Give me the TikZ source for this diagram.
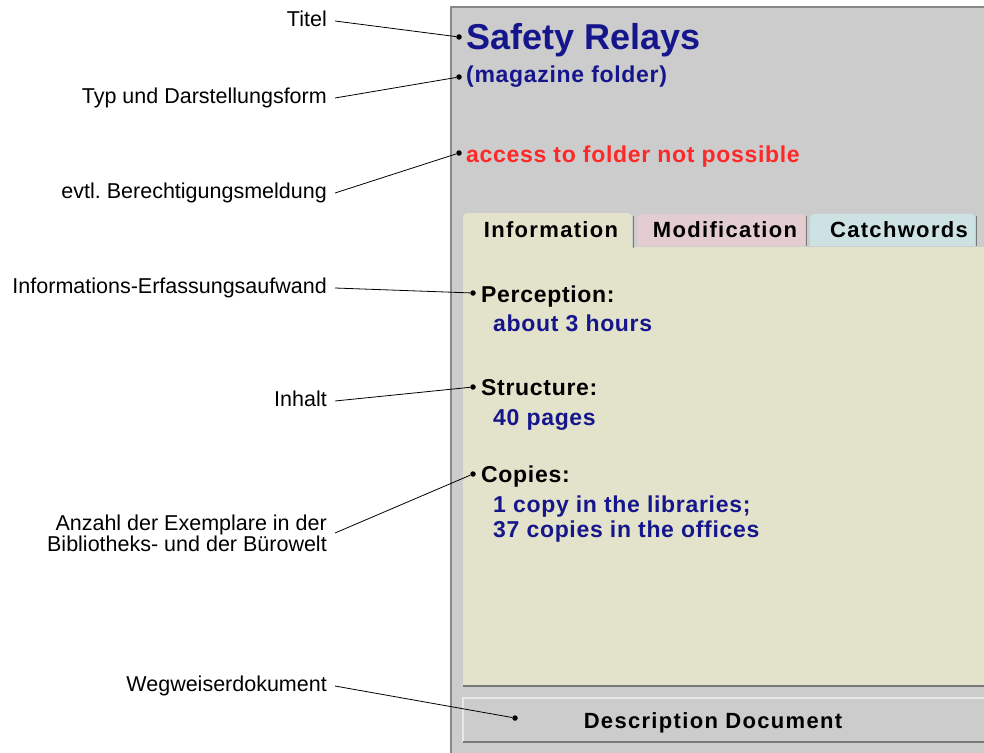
\documentclass[tikz,border=0pt]{standalone}
\usepackage{fontspec}
\setmainfont{Liberation Sans}
\newfontfamily\uifont[LetterSpace=3]{Liberation Sans}
\newfontfamily\tabfont[LetterSpace=6]{Liberation Sans}
\usepackage{tikz}
\usetikzlibrary{shapes}
\frenchspacing

\definecolor{panelgray}{RGB}{204,204,204}
\definecolor{edgegray}{RGB}{136,136,136}
\definecolor{shadowgray}{RGB}{120,120,120}
\definecolor{lightgray}{RGB}{232,232,232}
\definecolor{infobg}{RGB}{227,227,203}
\definecolor{modbg}{RGB}{227,205,208}
\definecolor{catbg}{RGB}{205,227,227}
\definecolor{navy}{RGB}{22,22,140}
\definecolor{alertred}{RGB}{255,40,40}

\begin{document}
\begin{tikzpicture}[x=1pt,y=-1pt]
      \tikzstyle{lbl}=[anchor=east,inner xsep=8pt,inner ysep=0pt,text height=15.5pt,text depth=4.5pt,font=\fontsize{21.5}{21}\selectfont]
      \tikzstyle{dot}=[circle,fill=black,inner sep=0pt,minimum size=5.5pt]
      \tikzstyle{txt}=[anchor=base west,inner sep=0pt,font=\uifont\bfseries\fontsize{23}{25}\selectfont]
      \tikzstyle{tabtxt}=[anchor=base,inner sep=0pt,font=\tabfont\bfseries\fontsize{22}{24}\selectfont]
      \tikzstyle{tab}=[rounded corners=4pt]
      \tikzstyle{shade}=[draw=shadowgray,line width=1.5pt]
      \useasboundingbox (0,0) rectangle (984,752);
      \clip (0,0) rectangle (984,752);
      % panel
      \filldraw[fill=panelgray,draw=edgegray,line width=1.5pt] (451,7) rectangle (1000,770);
      \fill[infobg] (463,247) rectangle (984,686);
      \draw[shade] (463,686) -- (984,686);
      \fill[infobg,tab] (463,250) -- (463,213) -- (632,213) -- (632,250);
      \fill[modbg,tab] (637,246) -- (637,214) -- (805,214) -- (805,246);
      \fill[catbg,tab] (810,246) -- (810,214) -- (975,214) -- (975,246);
      \draw[shade,line width=1pt] (633,216) -- (633,248);
      \draw[shade,line width=1pt] (806,216) -- (806,246);
      \draw[shade,line width=1pt] (976,216) -- (976,246);
      \fill[panelgray] (463,697) rectangle (984,742);
      \draw[lightgray,line width=1.5pt] (463,742) -- (463,698) -- (984,698);
      \draw[shade] (463,742) -- (984,742);
      % panel texts
      \node[txt,navy,font=\bfseries\fontsize{36}{38}\selectfont] (title) at (466,50) {Safety Relays};
      \node[txt,navy] (kind) at (466,82) {(magazine folder)};
      \node[txt,alertred] (notice) at (466,162) {access to folder not possible};
      \node[tabtxt] (tabinfo) at (551,237) {Information};
      \node[tabtxt] (tabmod) at (725,237) {Modification};
      \node[tabtxt] (tabcat) at (899,237) {Catchwords};
      \node[txt] (percep) at (481,302) {Perception:};
      \node[txt,navy] (percepval) at (493,331) {about 3 hours};
      \node[txt] (struct) at (481,395) {Structure:};
      \node[txt,navy] (structval) at (493,425) {40 pages};
      \node[txt] (copies) at (481,482) {Copies:};
      \node[txt,navy] (copiesval) at (493,512) {1 copy in the libraries;};
      \node[txt,navy] (copiesval2) at (493,537) {37 copies in the offices};
      \node[tabtxt] (descr) at (713,728) {Description Document};
      % dots
      \node[dot] (dtitle) at (459,37) {};
      \node[dot] (dkind) at (459,77) {};
      \node[dot] (dnotice) at (459,153) {};
      \node[dot] (dpercep) at (473,293) {};
      \node[dot] (dstruct) at (473,387) {};
      \node[dot] (dcopies) at (473,474) {};
      \node[dot] (ddescr) at (515,718) {};
      % labels
      \node[lbl] (ttl) at (335,21) {Titel};
      \node[lbl] (typ) at (335,98) {Typ und Darstellungsform};
      \node[lbl] (perm) at (335,193) {evtl. Berechtigungsmeldung};
      \node[lbl] (effort) at (335,288) {Informations-Erfassungsaufwand};
      \node[lbl] (inh) at (335,401) {Inhalt};
      \node[lbl,align=right,text height={},text depth={}] (anz) at (335,533) {Anzahl der Exemplare in der\\Bibliotheks- und der Bürowelt};
      \node[lbl] (wegw) at (335,686) {Wegweiserdokument};
      \draw[line width=0.8pt] (ttl.east) -- (dtitle);
      \draw[line width=0.8pt] (typ.east) -- (dkind);
      \draw[line width=0.8pt] (perm.east) -- (dnotice);
      \draw[line width=0.8pt] (effort.east) -- (dpercep);
      \draw[line width=0.8pt] (inh.east) -- (dstruct);
      \draw[line width=0.8pt] (anz.east) -- (dcopies);
      \draw[line width=0.8pt] (wegw.east) -- (ddescr);
\end{tikzpicture}
\end{document}
